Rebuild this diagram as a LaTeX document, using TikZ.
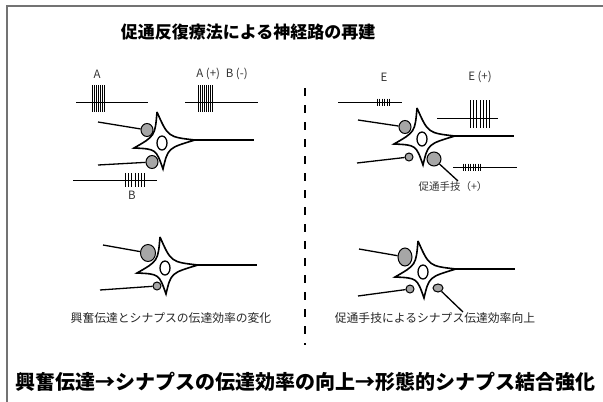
\documentclass[tikz,border=0pt]{standalone}
\usepackage{fontspec}
\newfontfamily\jp{Noto Sans CJK JP}
\usetikzlibrary{calc,shapes.geometric}

\begin{document}
\begin{tikzpicture}[x=1pt,y=-1pt,line width=1.6pt,font=\jp]
	\tikzstyle{frame}=[draw=black!55, line width=1.4pt]
	\tikzstyle{fibre}=[line width=1.3pt]
	\tikzstyle{syn}=[ellipse, draw=black, fill=black!35, line width=1pt, inner sep=0pt, minimum width=12pt, minimum height=13pt]
	\tikzstyle{syn small}=[syn, minimum width=8pt, minimum height=8pt]
	\tikzstyle{nucleus}=[ellipse, draw=black, line width=1.3pt, inner sep=0pt, minimum width=10pt, minimum height=14pt]
	\tikzstyle{spike}=[line width=0.7pt]
	\tikzstyle{train}=[line width=1pt]
	\tikzstyle{label}=[font=\jp\fontsize{11.5}{13}\selectfont, text=black!80]
	\tikzstyle{caption}=[font=\jp\fontsize{11.8}{14}\selectfont, text=black!85]

	\useasboundingbox (0,0) rectangle (603,402);
	\draw[frame] (7,402) -- (7,6) -- (603,6);

	\node (title) at (248,32) {\fontsize{17}{20}\selectfont\bfseries 促通反復療法による神経路の再建};
	\node (summary) at (306,382) {\fontsize{20}{23}\selectfont\bfseries 興奮伝達→シナプスの伝達効率の向上→形態的シナプス結合強化};

	% divider
	\draw[line width=2.6pt, dash pattern=on 8pt off 9pt] (305,88) -- (305,345);

	% cell bodies, nuclei and axons
	\foreach \cx/\cy/\n in {162/143/1, 422/139/2, 165/268/3, 423/272/4} {
		\coordinate (c\n) at (\cx,\cy);
		\coordinate (t\n) at ($(c\n)+(-5,-31)$);
		\coordinate (r\n) at ($(c\n)+(33,-3)$);
		\coordinate (b\n) at ($(c\n)+(1,26)$);
		\coordinate (l\n) at ($(c\n)+(-28,5)$);
		\draw (t\n) .. controls ($(c\n)+(6,-6)$) .. (r\n)
			.. controls ($(c\n)+(6,5)$) .. (b\n)
			.. controls ($(c\n)+(-6,6)$) .. (l\n)
			.. controls ($(c\n)+(-7,-7)$) .. (t\n);
		\draw (r\n) -- ++(59,0) coordinate (x\n);
		\node[nucleus] (n\n) at (c\n) {};
	}

	% synapses and incoming fibres
	\node[syn] (s1a) at (147,130) {};
	\node[syn] (s1b) at (152,162) {};
	\coordinate (i1a) at (98,122);
	\coordinate (i1b) at (98,165);
	\draw[fibre] (i1a) -- (s1a);
	\draw[fibre] (i1b) -- (s1b);

	\node[syn] (s2a) at (405,127) {};
	\node[syn small] (s2b) at (409,157) {};
	\node[syn, minimum width=14pt, minimum height=14pt] (s2c) at (434,159) {};
	\coordinate (i2a) at (358,120);
	\coordinate (i2b) at (357,163);
	\coordinate (f2) at (458,181);
	\draw[fibre] (i2a) -- (s2a);
	\draw[fibre] (i2b) -- (s2b);
	\draw[fibre] (s2c) -- (f2);

	\node[syn, minimum width=15pt, minimum height=17pt] (s3a) at (148,253) {};
	\node[syn small] (s3b) at (157,286) {};
	\coordinate (i3a) at (103,245);
	\coordinate (i3b) at (100,290);
	\draw[fibre] (i3a) -- (s3a);
	\draw[fibre] (i3b) -- (s3b);

	\node[syn, minimum width=14pt, minimum height=18pt] (s4a) at (405,257) {};
	\node[syn small] (s4b) at (410,289) {};
	\node[syn, minimum width=10pt, minimum height=8pt] (s4c) at (438,288) {};
	\coordinate (i4a) at (359,249);
	\coordinate (i4b) at (358,296);
	\coordinate (f4) at (463,312);
	\draw[fibre] (i4a) -- (s4a);
	\draw[fibre] (i4b) -- (s4b);
	\draw[fibre] (s4c) -- (f4);

	% spike trains
	\draw[train] (76,102) -- (148,102);
	\foreach \x in {92,94,...,104} \draw[spike] (\x,85) -- (\x,112);
	\draw[train] (185,102) -- (258,102);
	\foreach \x in {198,200,...,212} \draw[spike] (\x,85) -- (\x,112);
	\draw[train] (73,180) -- (157,180);
	\foreach \x in {125,128.3,...,145} \draw[spike] (\x,173) -- (\x,187);
	\draw[train] (338,102) -- (402,102);
	\foreach \x in {377,379.5,...,391} \draw[spike] (\x,98.5) -- (\x,105.5);
	\draw[train] (437,118) -- (498,118);
	\foreach \x in {470,473.3,...,490} \draw[spike] (\x,100) -- (\x,128);
	\draw[train] (453,167) -- (517,167);
	\foreach \x in {463,465.5,...,481} \draw[spike] (\x,163.5) -- (\x,170.5);

	% labels
	\node[label] (lA) at (97,74) {A};
	\node[label] (lAB) at (222,74) {A (+)\enspace B (-)};
	\node[label] (lB) at (132,195) {B};
	\node[label] (lE) at (384,77) {E};
	\node[label] (lEp) at (480,77) {E (+)};
	\node[label, font=\jp\fontsize{10.5}{12}\selectfont] (lfac) at (453,187) {促通手技（+）};

	\node[caption] (cap1) at (171,318) {興奮伝達とシナプスの伝達効率の変化};
	\node[caption] (cap2) at (435,318) {促通手技によるシナプス伝達効率向上};
\end{tikzpicture}
\end{document}
